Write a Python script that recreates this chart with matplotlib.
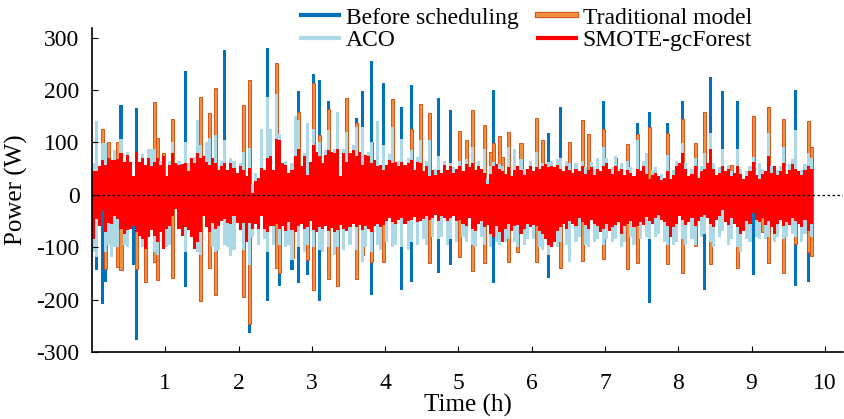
import numpy as np
import matplotlib.pyplot as plt
from matplotlib.lines import Line2D
import matplotlib.patheffects as pe

plt.rcParams['font.family'] = ['Liberation Serif', 'DejaVu Serif']
plt.rcParams['axes.unicode_minus'] = False

dt = 1 / 24  # one bar every 2.5 min

# SMOTE-gcForest (front layer), one value per bar
red_pos = [45, 45, 54, 67, 57, 70, 67, 67, 68, 79, 63, 76, 63, 35, 82, 63, 70, 57, 71, 54, 63, 70, 57, 73,
           36, 57, 80, 60, 57, 59, 60, 45, 70, 60, 79, 70, 73, 63, 57, 70, 60, 48, 54, 60, 48, 60, 51, 41,
           54, 48, 35, 51, 4, 26, 32, 51, 48, 70, 73, 48, 107, 104, 60, 57, 41, 48, 73, 88, 54, 73, 38, 63,
           95, 82, 73, 60, 76, 85, 82, 79, 88, 35, 79, 63, 79, 85, 73, 82, 57, 76, 73, 60, 67, 54, 57, 48,
           57, 67, 60, 63, 54, 63, 57, 60, 67, 48, 63, 60, 45, 54, 35, 48, 38, 48, 41, 57, 48, 54, 41, 50,
           55, 45, 58, 52, 60, 48, 55, 50, 42, 20, 40, 55, 58, 50, 45, 40, 52, 35, 48, 55, 48, 38, 50, 55,
           45, 52, 50, 55, 58, 53, 55, 52, 57, 50, 45, 55, 48, 42, 50, 45, 55, 40, 48, 52, 38, 50, 45, 55,
           60, 50, 40, 55, 45, 50, 38, 48, 42, 35, 50, 45, 55, 40, 30, 38, 42, 35, 28, 32, 45, 30, 38, 55,
           60, 79, 50, 35, 40, 55, 32, 45, 50, 60, 88, 50, 38, 42, 55, 45, 50, 35, 42, 55, 40, 30, 35, 45,
           62, 38, 30, 40, 45, 73, 42, 55, 38, 45, 60, 40, 48, 58, 50, 45, 38, 48, 55, 50]
red_neg = [-84, -46, -59, -31, -72, -53, -56, -40, -46, -65, -75, -68, -65, -59, -72, -78, -84, -104, -81, -68, -78, -90, -72, -103,
           -65, -59, -40, -28, -65, -78, -62, -68, -81, -103, -90, -72, -40, -62, -72, -53, -65, -59, -50, -46, -53, -56, -40, -53,
           -68, -53, -90, -53, -65, -56, -65, -40, -65, -72, -59, -59, -55, -65, -60, -70, -52, -68, -72, -60, -55, -66, -62, -50,
           -68, -72, -62, -66, -60, -70, -64, -72, -68, -58, -66, -70, -62, -55, -62, -58, -68, -60, -66, -72, -60, -55, -62, -58,
           -50, -45, -52, -56, -48, -45, -55, -50, -48, -42, -52, -50, -46, -40, -48, -44, -38, -50, -40, -44, -50, -45, -40, -50,
           -48, -55, -60, -45, -65, -70, -55, -50, -62, -58, -75, -80, -60, -72, -90, -65, -55, -70, -60, -58, -75, -66, -55, -62,
           -58, -60, -70, -75, -85, -95, -100, -90, -70, -62, -55, -65, -50, -55, -60, -45, -52, -58, -65, -48, -55, -60, -72, -66,
           -55, -70, -62, -58, -52, -75, -60, -55, -50, -62, -60, -52, -58, -42, -50, -55, -45, -38, -48, -52, -60, -80, -62, -55,
           -40, -48, -58, -52, -45, -60, -50, -42, -38, -45, -55, -62, -48, -40, -30, -52, -58, -45, -55, -62, -75, -70, -50, -55,
           -35, -48, -52, -45, -58, -50, -62, -75, -55, -48, -60, -52, -58, -45, -50, -55, -62, -48, -70, -55]

# ACO, one value per bar (small values sit hidden behind the red bars)
aco_pos = [60, 140, 40, 98, 98, 40, 50, 85, 40, 107, 40, 82, 40, 30, 50, 40, 78, 40, 88, 88, 88, 40, 65, 40,
           30, 65, 101, 40, 65, 40, 101, 60, 40, 72, 142, 95, 40, 100, 108, 40, 114, 40, 65, 105, 40, 70, 65, 30,
           60, 82, 30, 90, 20, 41, 20, 126, 40, 186, 126, 40, 192, 115, 40, 65, 30, 60, 151, 142, 40, 80, 136, 40,
           126, 40, 100, 40, 85, 123, 40, 88, 158, 30, 88, 120, 40, 95, 129, 40, 129, 40, 82, 101, 40, 141, 40, 95,
           40, 78, 129, 40, 65, 107, 40, 70, 85, 30, 72, 104, 30, 65, 104, 30, 50, 73, 30, 65, 30, 60, 52, 30,
           65, 30, 68, 40, 92, 30, 65, 30, 88, 30, 55, 62, 30, 58, 55, 30, 92, 30, 88, 30, 68, 50, 30, 65,
           30, 82, 30, 60, 30, 62, 65, 30, 68, 70, 30, 65, 60, 30, 60, 30, 65, 52, 30, 62, 50, 70, 30, 92,
           70, 30, 52, 74, 30, 60, 30, 65, 52, 30, 104, 30, 65, 79, 20, 48, 52, 20, 40, 20, 75, 20, 48, 65,
           20, 98, 60, 20, 50, 70, 20, 55, 80, 20, 117, 60, 20, 52, 88, 20, 57, 45, 20, 88, 50, 20, 45, 55,
           72, 20, 60, 50, 20, 117, 55, 20, 48, 55, 91, 20, 58, 68, 123, 20, 48, 58, 80, 70]
aco_neg = [-110, -119, -20, -20, -110, -95, -118, -100, -100, -20, -95, -100, -20, -20, -20, -20, -100, -20, -20, -20, -110, -115, -20, -20,
           -100, -95, -20, -20, -20, -20, -110, -20, -20, -20, -110, -115, -20, -20, -20, -100, -110, -105, -20, -95, -100, -116, -105, -20,
           -20, -105, -20, -135, -80, -20, -95, -20, -85, -110, -20, -95, -20, -95, -20, -100, -95, -125, -20, -100, -20, -110, -95, -20,
           -100, -20, -105, -110, -20, -100, -20, -115, -100, -20, -105, -20, -95, -20, -105, -20, -128, -100, -20, -110, -20, -95, -105, -20,
           -90, -20, -100, -95, -20, -100, -20, -106, -90, -20, -95, -20, -85, -95, -20, -80, -20, -85, -80, -20, -95, -85, -20, -90,
           -20, -80, -90, -20, -95, -100, -20, -80, -95, -20, -100, -20, -90, -95, -20, -90, -85, -20, -90, -100, -20, -95, -85, -20,
           -85, -20, -100, -105, -20, -115, -20, -20, -100, -90, -20, -95, -128, -20, -90, -80, -20, -95, -100, -20, -90, -85, -20, -95,
           -85, -20, -90, -85, -20, -100, -90, -20, -80, -95, -20, -85, -20, -80, -85, -20, -80, -75, -20, -90, -95, -20, -95, -90,
           -20, -85, -95, -20, -85, -95, -20, -80, -75, -20, -90, -100, -20, -80, -70, -20, -95, -85, -20, -100, -110, -20, -85, -90,
           -20, -80, -85, -20, -85, -80, -20, -90, -80, -20, -85, -80, -20, -75, -80, -20, -90, -75, -20, -80]

# Before scheduling: only the bars that reach past the other layers (bar index, value)
blue_pos_idx = [9, 14, 30, 43, 57, 67, 72, 74, 77, 86, 88, 91, 95, 101, 104, 113, 117, 131, 149, 153, 167,
                171, 178, 182, 188, 193, 202, 206, 211, 230]
blue_pos_val = [172, 166, 237, 276, 280, 198, 231, 218, 178, 147, 198, 256, 213, 167, 209, 184, 161, 200, 117, 167, 178,
                74, 136, 158, 136, 178, 224, 198, 178, 200]
blue_neg_idx = [1, 3, 4, 13, 14, 30, 51, 57, 61, 65, 67, 70, 74, 91, 101, 104, 113, 117, 131, 149, 182, 200,
                216, 230, 234]
blue_neg_val = [-144, -208, -167, -134, -278, -176, -263, -202, -175, -144, -169, -153, -202, -191, -181, -166, -150, -135,
                -169, -158, -207, -181, -154, -175, -166]

# Traditional model
orange_pos_idx = [3, 5, 8, 20, 21, 23, 26, 35, 38, 40, 49, 51, 60, 67, 72, 74, 77, 83, 86, 91, 98, 104, 107, 110,
                  120, 122, 124, 128, 130, 131, 133, 134, 136, 140, 145, 147, 156, 160, 162, 167, 171, 175, 178,
                  182, 188, 193, 197, 200, 209, 216, 221, 226, 234, 235]
orange_pos_val = [125, 100, 101, 176, 108, 79, 145, 187, 156, 203, 171, 218, 252, 158, 214, 114, 164, 185, 136, 101, 183, 126, 173, 156,
                  121, 104, 161, 134, 82, 98, 112, 72, 120, 98, 147, 104, 100, 142, 116, 125, 70, 96, 116,
                  129, 117, 145, 99, 158, 57, 151, 168, 145, 141, 92]
orange_neg_idx = [4, 8, 9, 14, 17, 20, 21, 26, 35, 38, 40, 49, 51, 60, 61, 65, 70, 72, 77, 80, 86, 88, 91, 95,
                  110, 120, 124, 128, 136, 139, 145, 153, 160, 167, 175, 178, 188, 193, 197, 202, 211, 219,
                  221, 226, 230, 234, 235]
orange_neg_val = [-141, -137, -144, -141, -166, -129, -163, -159, -202, -139, -191, -196, -247, -139, -150, -120, -125, -181, -160, -175, -160, -115, -128, -128,
                  -131, -119, -146, -131, -128, -109, -128, -139, -127, -123, -142, -131, -133, -150, -98, -133, -139, -72,
                  -131, -150, -94, -109, -116]

c_blue = '#0072BD'
c_orange = '#F09040'
c_orange_edge = '#D95319'
c_aco = '#ADD8E6'
c_red = '#FF0000'

n = len(red_pos)
t = (np.arange(n) + 0.5) * dt

fig = plt.figure(figsize=(8.44, 4.19), dpi=100)
ax = fig.add_axes([0.109, 0.16, 0.89, 0.773])

ax.bar(t[blue_pos_idx], blue_pos_val, width=dt, color=c_blue, linewidth=0)
ax.bar(t[blue_neg_idx], blue_neg_val, width=dt, color=c_blue, linewidth=0)
ax.bar(t[orange_pos_idx], orange_pos_val, width=dt, color=c_orange, edgecolor=c_orange_edge, linewidth=0.7)
ax.bar(t[orange_neg_idx], orange_neg_val, width=dt, color=c_orange, edgecolor=c_orange_edge, linewidth=0.7)
ax.bar(t, aco_pos, width=dt, color=c_aco, linewidth=0)
ax.bar(t, aco_neg, width=dt, color=c_aco, linewidth=0)
ax.bar(t, red_pos, width=dt, color=c_red, linewidth=0)
ax.bar(t, red_neg, width=dt, color=c_red, linewidth=0)
ax.axhline(0, color='black', linestyle=(0, (2, 2)), linewidth=0.9)

ax.set_xlim(0, 10.25)
ax.set_ylim(-300, 318)
ax.set_xticks(range(1, 11))
ax.set_yticks(range(-300, 301, 100))
ax.tick_params(direction='in', length=4, labelsize=17)
ax.tick_params(axis='x', pad=15)
ax.tick_params(axis='y', pad=9)
ax.spines['top'].set_visible(False)
ax.spines['right'].set_visible(False)
ax.spines['left'].set_linewidth(1.2)
ax.spines['bottom'].set_linewidth(1.2)
ax.set_xlabel('Time (h)', fontsize=18, labelpad=0)
ax.set_ylabel('Power (W)', fontsize=18, labelpad=6)

handles = [
    Line2D([], [], color=c_blue, lw=3),
    Line2D([], [], color=c_aco, lw=3),
    Line2D([], [], color=c_orange, lw=3,
           path_effects=[pe.Stroke(linewidth=4.5, foreground=c_orange_edge), pe.Normal()]),
    Line2D([], [], color=c_red, lw=3),
]
labels = ['Before scheduling', 'ACO', 'Traditional model', 'SMOTE-gcForest']
fig.legend(handles, labels, ncol=2, loc='center', bbox_to_anchor=(0.624, 0.93), frameon=False,
           fontsize=17, handlelength=1.6, columnspacing=0.8, labelspacing=0.05, handletextpad=0.3,
           borderpad=0)

fig.savefig('out.png', dpi=100)
